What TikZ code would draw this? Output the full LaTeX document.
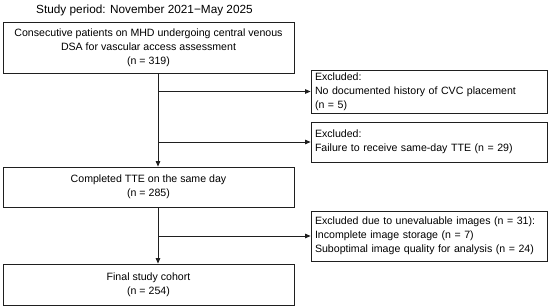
\documentclass[tikz,border=0pt]{standalone}
\usepackage{fontspec}
\setmainfont{Liberation Sans}
\usetikzlibrary{arrows.meta}
\begin{document}
\begin{tikzpicture}[x=1pt,y=-1pt,
  mainbox/.style={draw=black!88, line width=0.8pt, minimum width=291pt, align=center, inner sep=0pt,
    font=\fontsize{10.6}{14}\selectfont},
  exbox/.style={draw=black!88, line width=0.8pt, text width=228pt, align=left, inner xsep=4pt, inner ysep=0pt,
    font=\fontsize{10.6}{14}\selectfont},
  arr/.style={draw=black!88, line width=0.8pt, -{Triangle[length=5.5pt,width=4.5pt]}}]
\useasboundingbox (0,0) rectangle (550,308);
\coordinate (spine) at (158,0);
\node[font=\fontsize{11.8}{14}\selectfont] (title) at (144.5,10) {Study period: November 2021\textminus May 2025};
\node[mainbox, minimum height=51pt] (b1) at (148.5,47.5) {Consecutive patients on MHD undergoing central venous\\DSA for vascular access assessment\\(n = 319)};
\node[mainbox, minimum height=40pt] (b2) at (148.5,187) {Completed TTE on the same day\\(n = 285)};
\node[mainbox, minimum height=41pt] (b4) at (148.5,284.5) {Final study cohort\\(n = 254)};
\node[exbox, minimum height=43pt] (e1) at (429,91.5) {Excluded:\\No documented history of CVC placement\\(n = 5)};
\node[exbox, minimum height=40pt] (e2) at (429,142) {Excluded:\\Failure to receive same-day TTE (n = 29)};
\node[exbox, minimum height=50pt] (e3) at (429,236) {Excluded due to unevaluable images (n = 31):\\Incomplete image storage (n = 7)\\Suboptimal image quality for analysis (n = 24)};
\draw[arr] (b1.south -| spine) -- (b2.north -| spine);
\draw[arr] (b2.south -| spine) -- (b4.north -| spine);
\draw[arr] (e1.west -| spine) -- (e1.west);
\draw[arr] (e2.west -| spine) -- (e2.west);
\draw[arr] (e3.west -| spine) -- (e3.west);
\end{tikzpicture}
\end{document}
